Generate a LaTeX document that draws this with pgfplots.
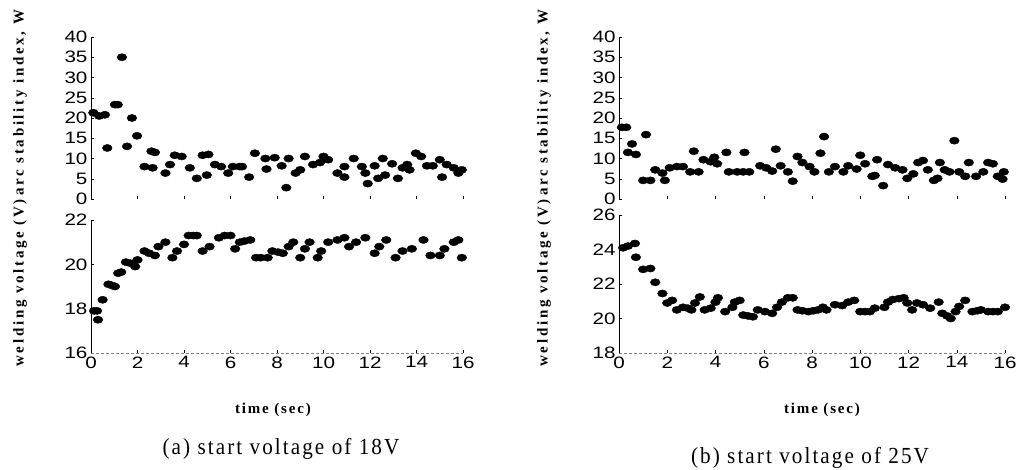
\documentclass[border=0pt]{standalone}
\usepackage{fontspec}
\setmainfont{Liberation Serif}
\newfontfamily\ticksf[FakeStretch=1.25]{Liberation Sans}
\newfontfamily\labsf[LetterSpace=18]{Liberation Serif}
\newfontfamily\timesf[LetterSpace=12]{Liberation Serif}
\newfontfamily\capsf[LetterSpace=9,FakeStretch=0.92]{Liberation Serif}
\usepackage{pgfplots}
\pgfplotsset{compat=1.18}

\pgfplotsset{
  panel/.style={
    scale only axis, axis lines=left, clip=false,
    xmin=0, xmax=16,
    axis line style={black, thin, -},
    tick style={black, thin}, major tick length=3pt, tick align=inside,
    ticklabel style={font=\ticksf\fontsize{16.5}{16.5}\selectfont},
    /pgf/number format/assume math mode=true,
  },
  toppanel/.style={panel, ymin=0, ymax=40, ytick={0,5,...,40},
    xtick={2,4,...,16}, xticklabels={}, x axis line style={draw=none}, height=162pt},
  botpanel/.style={panel, xtick={0,2,...,16},
    x axis line style={densely dashed, gray}},
  dots/.style={only marks, mark=*, black, mark size=3.6pt, mark options={xscale=1.35}},
}

\begin{document}
\begin{tikzpicture}
\path[use as bounding box] (0,0) rectangle (1022pt,469pt);

% (a) arc stability index
\begin{axis}[toppanel, at={(91pt,270pt)}, anchor=south west, width=372pt]
\addplot[dots] coordinates {(0.1,21.3)(0.35,20.5)(0.6,20.8)(0.7,12.6)(1.03,23.3)(1.15,23.3)(1.33,35)(1.55,13)(1.76,20)(1.98,15.6)(2.3,8)(2.6,11.8)(2.75,11.5)(2.65,7.7)(3.2,6.4)(3.4,8.5)(3.6,10.8)(3.9,10.5)(4.25,7.7)(4.55,5.1)(4.8,10.8)(5.05,11)(4.98,5.9)(5.33,8.5)(5.6,8)(5.9,6.4)(6.1,8)(6.4,8)(6.5,8)(6.8,5.4)(7.05,11.3)(7.5,10)(7.55,7.4)(7.9,10.2)(8.2,8.2)(8.4,2.8)(8.5,10)(8.8,6.4)(9.0,7.2)(9.2,10.5)(9.55,8.5)(9.85,9)(10.0,10.5)(10.2,9.7)(10.6,6.4)(10.9,8)(10.9,5.4)(11.3,10)(11.65,8)(11.8,6.4)(11.9,3.8)(12.2,8.2)(12.35,5.1)(12.55,10)(12.65,5.9)(12.95,8.7)(13.2,5.1)(13.4,7.7)(13.6,8.5)(13.7,7.2)(13.97,11.3)(14.2,10.5)(14.45,8.2)(14.7,8.2)(15.0,9.7)(15.1,5.4)(15.3,8.5)(15.6,7.7)(15.8,6.4)(15.95,7.2)};
\end{axis}

% (a) welding voltage
\begin{axis}[botpanel, at={(91pt,116pt)}, anchor=south west, width=372pt, height=133pt,
  ymin=16, ymax=22, ytick={16,18,20,22}]
\addplot[dots] coordinates {(0.13,17.9)(0.26,17.9)(0.3,17.5)(0.5,18.4)(0.75,19.1)(0.9,19.05)(1.03,19.0)(1.17,19.6)(1.3,19.65)(1.5,20.1)(1.7,20.05)(1.9,19.9)(2.0,20.2)(2.3,20.6)(2.5,20.5)(2.75,20.4)(2.9,20.8)(3.2,21.0)(3.5,20.3)(3.7,20.6)(4.0,20.9)(4.2,21.3)(4.4,21.3)(4.55,21.3)(4.8,20.6)(5.1,20.8)(5.5,21.2)(5.75,21.3)(6.0,21.3)(6.2,20.7)(6.4,21.0)(6.6,21.05)(6.85,21.1)(7.1,20.3)(7.3,20.3)(7.6,20.3)(7.8,20.6)(8.05,20.55)(8.25,20.5)(8.5,20.8)(8.7,21.0)(9.0,20.3)(9.2,20.7)(9.4,21.0)(9.75,20.3)(9.9,20.6)(10.2,21.0)(10.6,21.1)(10.9,21.2)(11.1,20.8)(11.4,21.0)(11.8,21.2)(12.2,20.5)(12.4,20.8)(12.7,21.1)(13.1,20.3)(13.4,20.6)(13.8,20.7)(14.3,21.1)(14.6,20.4)(15.0,20.4)(15.2,20.7)(15.6,21.0)(15.8,21.1)(15.95,20.3)};
\end{axis}

% (b) arc stability index
\begin{axis}[toppanel, at={(619pt,270pt)}, anchor=south west, width=386pt]
\addplot[dots] coordinates {(0.12,17.7)(0.3,17.7)(0.37,11.5)(0.54,13.6)(0.7,11)(1.0,4.6)(1.3,4.6)(1.12,15.9)(1.5,7.2)(1.9,4.6)(1.8,6.4)(2.1,7.7)(2.4,8)(2.65,8)(2.95,6.7)(3.1,11.8)(3.3,6.7)(3.5,9.7)(3.8,9.2)(3.95,10.3)(4.07,8.7)(4.45,11.5)(4.55,6.7)(4.9,6.7)(5.15,6.7)(5.2,11.5)(5.4,6.7)(5.85,8.2)(6.1,7.7)(6.35,6.9)(6.5,12.3)(6.7,8.2)(7.0,6.7)(7.2,4.4)(7.4,10.5)(7.6,9)(7.9,8)(8.1,6.7)(8.35,11.3)(8.5,15.4)(8.7,6.7)(8.95,8)(9.3,6.7)(9.5,8.2)(9.85,7.4)(10.0,10.8)(10.2,8.7)(10.5,5.6)(10.6,5.8)(10.7,9.7)(10.95,3.3)(11.15,8.5)(11.45,7.7)(11.75,7.2)(11.95,5.1)(12.2,6.2)(12.4,9)(12.6,9.5)(12.8,7.2)(13.05,4.6)(13.2,5.1)(13.3,9)(13.5,7.2)(13.7,6.7)(13.9,14.4)(14.1,6.7)(14.35,5.6)(14.5,9)(14.8,5.6)(15.1,6.7)(15.3,9)(15.5,8.7)(15.7,5.6)(15.9,4.9)(15.95,6.7)};
\end{axis}

% (b) welding voltage
\begin{axis}[botpanel, at={(619pt,116pt)}, anchor=south west, width=386pt, height=138pt,
  ymin=18, ymax=26, ytick={18,20,...,26}]
\addplot[dots] coordinates {(0.17,24.1)(0.37,24.2)(0.66,24.35)(0.7,23.55)(1.0,22.85)(1.3,22.9)(1.5,22.1)(1.8,21.45)(2.0,20.9)(2.2,21.05)(2.4,20.5)(2.65,20.65)(2.85,20.6)(3.0,20.5)(3.15,20.9)(3.35,21.25)(3.55,20.5)(3.8,20.6)(4.0,20.95)(4.1,21.2)(4.4,20.4)(4.7,20.65)(4.8,20.95)(5.0,21.05)(5.15,20.2)(5.35,20.15)(5.55,20.1)(5.75,20.5)(6.05,20.4)(6.35,20.3)(6.55,20.65)(6.75,20.95)(7.0,21.2)(7.2,21.2)(7.4,20.5)(7.6,20.45)(7.85,20.4)(8.05,20.45)(8.25,20.5)(8.45,20.65)(8.6,20.5)(8.95,20.8)(9.25,20.75)(9.5,20.95)(9.75,21.05)(10.0,20.4)(10.2,20.4)(10.4,20.4)(10.6,20.6)(11.0,20.65)(11.15,20.95)(11.35,21.1)(11.6,21.15)(11.8,21.2)(11.95,20.9)(12.15,20.5)(12.35,20.9)(12.6,20.8)(12.9,20.6)(13.25,20.95)(13.4,20.3)(13.6,20.15)(13.75,20.0)(13.95,20.4)(14.1,20.7)(14.35,21.05)(14.65,20.4)(14.85,20.45)(15.0,20.5)(15.3,20.4)(15.5,20.4)(15.7,20.4)(16.0,20.65)};
\end{axis}

% axis titles
\foreach \lx in {20pt,544pt} {
  \node[rotate=90, anchor=east, inner sep=0pt, font=\labsf\bfseries\fontsize{15}{15}\selectfont] at (\lx,270pt) {welding voltage (V)};
  \node[rotate=90, anchor=west, inner sep=0pt, font=\labsf\bfseries\fontsize{15}{15}\selectfont] at (\lx,273pt) {arc stability index, W};
}
\node[font=\timesf\bfseries\fontsize{15}{15}\selectfont] at (273pt,59pt) {time (sec)};
\node[font=\timesf\bfseries\fontsize{15}{15}\selectfont] at (822pt,59pt) {time (sec)};
\node[font=\capsf\fontsize{23}{23}\selectfont] at (281pt,20pt) {(a) start voltage of 18V};
\node[font=\capsf\fontsize{23}{23}\selectfont] at (810pt,11pt) {(b) start voltage of 25V};
\end{tikzpicture}
\end{document}
